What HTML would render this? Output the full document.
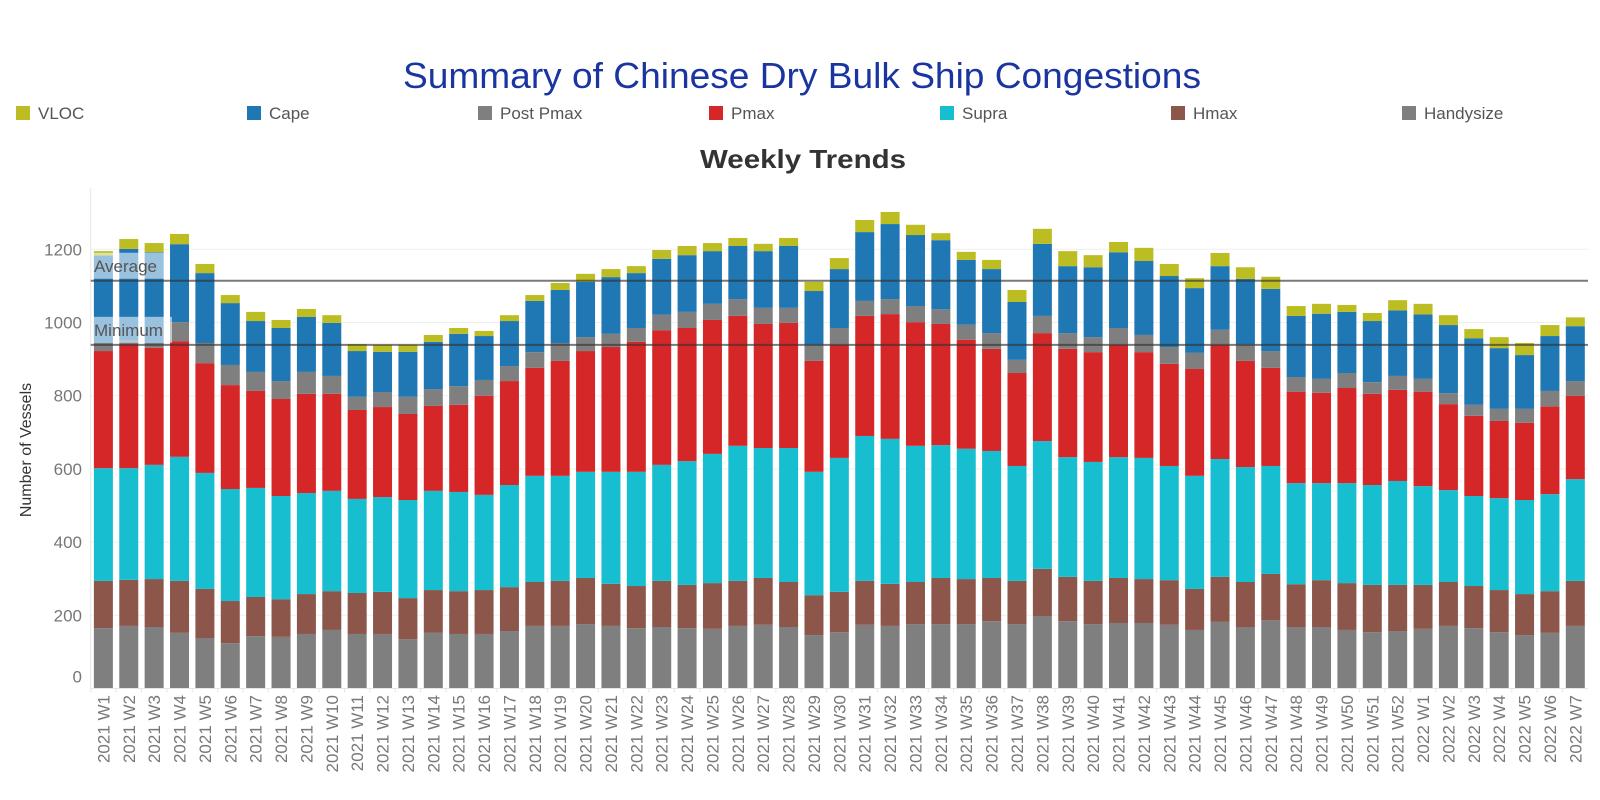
<!DOCTYPE html>
<html><head><meta charset="utf-8">
<style>
html,body{margin:0;padding:0;background:#fff;}
svg{display:block;font-family:"Liberation Sans",sans-serif;}
</style></head>
<body>
<svg id="chart" width="1600" height="800" viewBox="0 0 1600 800" xmlns="http://www.w3.org/2000/svg">
<text x="802" y="88" text-anchor="middle" font-size="36" fill="#1a35a0" textLength="798" lengthAdjust="spacingAndGlyphs">Summary of Chinese Dry Bulk Ship Congestions</text>
<g id="legend"></g>
<text x="803" y="168" text-anchor="middle" font-size="26" font-weight="bold" fill="#333" textLength="206" lengthAdjust="spacingAndGlyphs">Weekly Trends</text>
<text transform="translate(31,450) rotate(-90)" text-anchor="middle" font-size="16" fill="#333">Number of Vessels</text>
<g id="grid"></g>
<g id="bars"></g>
<g id="refs"></g>
<g id="xlabels"></g>
</svg>
<script>
const weeks = ["2021 W1","2021 W2","2021 W3","2021 W4","2021 W5","2021 W6","2021 W7","2021 W8","2021 W9","2021 W10","2021 W11","2021 W12","2021 W13","2021 W14","2021 W15","2021 W16","2021 W17","2021 W18","2021 W19","2021 W20","2021 W21","2021 W22","2021 W23","2021 W24","2021 W25","2021 W26","2021 W27","2021 W28","2021 W29","2021 W30","2021 W31","2021 W32","2021 W33","2021 W34","2021 W35","2021 W36","2021 W37","2021 W38","2021 W39","2021 W40","2021 W41","2021 W42","2021 W43","2021 W44","2021 W45","2021 W46","2021 W47","2021 W48","2021 W49","2021 W50","2021 W51","2021 W52","2022 W1","2022 W2","2022 W3","2022 W4","2022 W5","2022 W6","2022 W7"];
const handysize = [165,171,168,152,138,124,143,141,149,160,149,149,135,152,149,149,157,171,171,176,171,165,168,165,163,171,174,168,146,154,174,171,176,176,176,184,176,198,184,176,179,179,174,160,182,168,187,168,168,160,154,157,163,171,165,154,146,152,171];
const hmax = [129,126,131,142,134,115,107,103,109,106,112,115,112,117,117,120,120,120,123,126,115,115,126,118,125,123,128,123,109,110,120,115,115,126,123,118,118,129,121,118,123,120,122,112,123,123,126,117,128,128,129,126,120,120,115,115,112,114,123];
const supra = [308,305,312,339,317,306,298,282,276,274,257,259,268,271,271,260,279,290,287,290,306,312,317,338,353,369,355,366,337,366,396,396,372,363,356,347,314,349,327,325,330,331,312,309,322,314,295,276,265,273,273,284,270,251,246,251,257,265,278];
const pmax = [320,338,320,316,300,284,265,265,271,265,243,246,235,232,238,271,284,295,314,330,341,355,368,364,366,355,339,342,303,309,328,341,338,331,298,279,254,295,296,300,307,289,279,292,312,290,268,250,247,260,249,249,258,235,219,211,211,240,228];
const postPmax = [23,10,14,52,55,55,52,49,60,49,36,41,47,46,51,43,41,43,49,38,36,38,42,44,44,46,44,41,44,46,41,41,44,40,41,43,36,47,43,41,46,47,46,44,41,46,46,40,38,41,32,38,35,30,30,33,38,42,40];
const cape = [238,251,247,213,191,169,139,145,150,145,125,110,123,129,143,120,123,140,145,151,155,150,153,155,144,145,155,169,147,161,188,205,194,189,177,175,158,197,183,191,207,202,194,177,174,178,170,167,178,167,167,179,176,186,182,166,147,150,150];
const vloc = [12,27,25,28,25,22,25,22,22,21,19,19,19,19,16,14,16,16,19,22,22,19,24,25,22,22,20,22,25,30,33,33,28,19,22,25,33,41,41,33,28,36,33,27,36,32,33,27,27,19,22,28,29,27,25,30,33,30,24];
const yTicks = [0,200,400,600,800,1000,1200];
const refValues = [1114, 939];
const refNames = ["Average","Minimum"];

const seriesNames = ["Handysize","Hmax","Supra","Pmax","Post Pmax","Cape","VLOC"];
const seriesData = [handysize,hmax,supra,pmax,postPmax,cape,vloc];
const seriesColors = ["#7f7f7f","#8c564b","#17becf","#d62728","#7f7f7f","#1f77b4","#bcbd22"];
const legendOrder = [6,5,4,3,2,1,0];

const NS = "http://www.w3.org/2000/svg";
const X0 = 90.7, X1 = 1588, Y0 = 688.5, PX_PER = 0.366;
const band = (X1 - X0) / weeks.length;
const barW = 19;
function yScale(v){ return Y0 - v * PX_PER; }
function xCenter(i){ return X0 + band * (i + 0.5); }
function mk(tag, attrs, parent){
  const el = document.createElementNS(NS, tag);
  for (const k in attrs) el.setAttribute(k, attrs[k]);
  parent.appendChild(el);
  return el;
}

const legend = document.getElementById('legend');
legendOrder.forEach((si, j) => {
  const lx = 16 + j * 231;
  const g = mk('g', {}, legend);
  
  
  mk('rect', {x: lx, y: 106, width: 14, height: 14, fill: seriesColors[si]}, g);
  const t = mk('text', {x: lx + 22, y: 119, 'font-size': 17, fill: '#555'}, g);
  t.textContent = seriesNames[si];
});

const grid = document.getElementById('grid');
mk('line', {x1: X0, x2: X0, y1: 188, y2: Y0, stroke: '#e6e6e6', 'stroke-width': 1}, grid);
yTicks.forEach(v => {
  const y = yScale(v);
  const gl = mk('line', {x1: X0, x2: X1, y1: y, y2: y, stroke: '#efefef', 'stroke-width': 1}, grid);
  
  
  const t = mk('text', {x: 82, y: y + 6 - (v === 0 ? 12 : 0), 'text-anchor': 'end', 'font-size': 17, fill: '#777'}, grid);
  
  
  t.textContent = v;
});

const bars = document.getElementById('bars');
weeks.forEach((w, i) => {
  let cum = 0;
  const g = mk('g', {}, bars);
  
  
  seriesData.forEach((arr, si) => {
    const v = arr[i];
    const yTop = yScale(cum + v), yBot = yScale(cum);
    const r = mk('rect', {x: xCenter(i) - barW/2, y: yTop, width: barW, height: Math.max(0, yBot - yTop), fill: seriesColors[si]}, g);
    
    
    cum += v;
  });
});

const refs = document.getElementById('refs');
refValues.forEach((v, k) => {
  const y = yScale(v);
  const ln = mk('line', {x1: X0, x2: X1, y1: y, y2: y, stroke: '#333', 'stroke-opacity': 0.65, 'stroke-width': 2}, refs);
  
  
  const w = refNames[k] === 'Average' ? 72 : 80;
  const bx = mk('rect', {x: 92, y: y - 28, width: w, height: 26, fill: '#ffffff', 'fill-opacity': 0.55}, refs);
  
  
  const t = mk('text', {x: 94, y: y - 9, 'font-size': 17, fill: '#555'}, refs);
  
  
  t.textContent = refNames[k];
});

const xl = document.getElementById('xlabels');
mk('line', {x1: X0, x2: X1, y1: Y0, y2: Y0, stroke: '#e6e6e6', 'stroke-width': 1}, xl);
weeks.forEach((w, i) => {
  const cx = xCenter(i);
  mk('line', {x1: X0 + band * i, x2: X0 + band * i, y1: Y0, y2: Y0 + 4, stroke: '#e6e6e6'}, xl);
  const t = mk('text', {transform: 'translate(' + (cx + 6) + ',695) rotate(-90)', 'text-anchor': 'end', 'font-size': 17, fill: '#777'}, xl);
  
  
  t.textContent = w;
});
</script>
</body></html>
